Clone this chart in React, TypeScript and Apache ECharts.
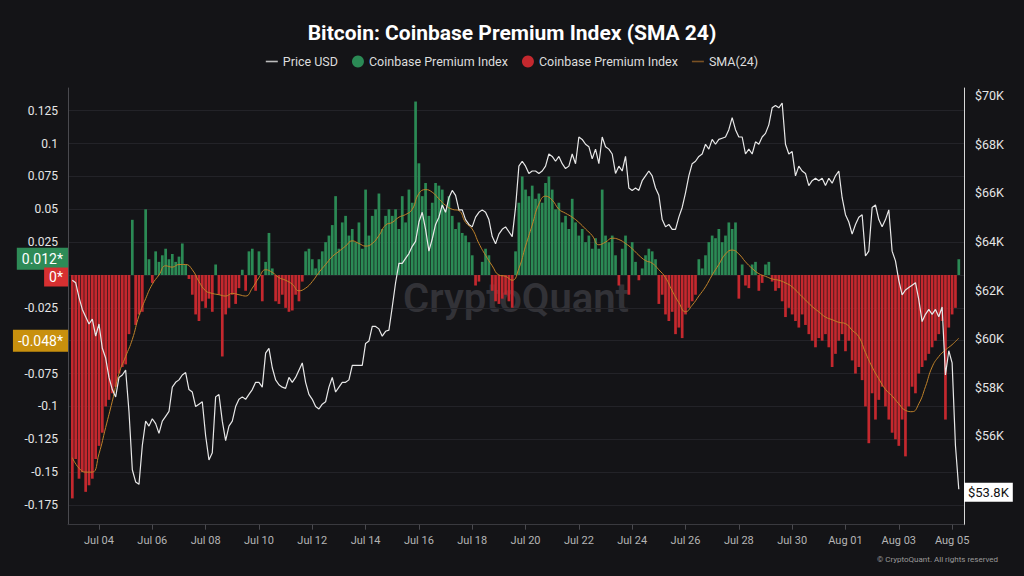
import React, { useEffect, useRef } from 'react';
import * as echarts from 'echarts';

// hours relative to Jul 04 00:00 UTC
const START_HOUR = -24;
const BAR_STEP_H = 3;
const SMA_STEP_H = 6;

const xTickHours = [0, 48, 96, 144, 192, 240, 288, 336, 384, 432, 480, 528, 576, 624, 672, 720, 768];
const xTickLabels = ['Jul 04', 'Jul 06', 'Jul 08', 'Jul 10', 'Jul 12', 'Jul 14', 'Jul 16', 'Jul 18', 'Jul 20', 'Jul 22', 'Jul 24', 'Jul 26', 'Jul 28', 'Jul 30', 'Aug 01', 'Aug 03', 'Aug 05'];
// grid lines on the left axis
const leftTicks = [-0.175, -0.15, -0.125, -0.1, -0.075, -0.05, -0.025, 0, 0.025, 0.05, 0.075, 0.1, 0.125];
// labels visible on the left axis (0 and -0.05 sit under the value tags)
const leftLabels = [-0.175, -0.15, -0.125, -0.1, -0.075, -0.025, 0.025, 0.05, 0.075, 0.1, 0.125];
// labels visible on the right axis ($54K sits under the price tag)
const rightTicks = [56, 58, 60, 62, 64, 66, 68, 70];

// BTC price in $K, every 3 hours from Jul 03 00:00
const priceUSD = [
  62.4, 62.3, 61.7, 61.2, 60.9, 60.6, 60.8, 60.1, 60.6, 59.6,
  59.2, 58.4, 57.9, 57.6, 58.4, 58.5, 58.7, 57.0, 54.6, 54.1,
  54.0, 55.6, 56.6, 56.4, 56.7, 56.5, 56.1, 56.6, 56.8, 57.0,
  58.0, 58.2, 58.3, 58.5, 58.6, 57.9, 57.8, 57.2, 57.3, 57.4,
  56.0, 55.0, 55.3, 57.6, 57.7, 56.6, 55.8, 56.4, 56.6, 57.2,
  57.5, 57.6, 57.5, 57.7, 57.9, 58.2, 58.2, 58.0, 59.4, 59.6,
  58.8, 58.3, 58.1, 58.0, 57.95, 58.4, 58.2, 58.4, 58.7, 59.0,
  58.2, 57.7, 57.5, 57.2, 57.1, 57.3, 57.4, 58.0, 58.4, 57.8,
  58.0, 58.2, 58.2, 58.3, 58.9, 58.9, 58.9, 58.9, 59.8, 59.9,
  60.5, 60.5, 60.4, 60.1, 60.3, 60.35,
  61.3, 62.3, 63.1, 63.1, 63.3, 63.5, 63.8, 64.0, 64.8, 65.2,
  64.5, 63.6, 64.1, 64.7, 65.0, 65.5, 65.2, 65.8, 66.1, 65.9,
  65.3, 65.3, 64.9, 64.7, 64.6, 65.0, 65.2, 65.3, 65.2, 64.9,
  64.2, 63.9, 64.3, 64.5, 64.6, 64.4, 64.2, 65.4, 67.1, 67.3,
  67.1, 66.8, 66.9, 66.9, 66.8, 66.9, 67.1, 67.6, 67.5, 67.3,
  67.5, 67.2, 67.0, 67.1, 67.6, 67.2, 68.3, 68.2, 68.0, 67.9,
  67.4, 67.8, 67.2, 68.3, 67.9, 67.8, 67.6, 66.8, 67.1, 66.9,
  67.5, 66.2, 66.1, 66.2, 66.1, 66.5, 66.7, 66.9, 66.7, 66.2,
  65.9, 64.9, 64.6, 64.7, 64.5, 64.5, 65.0, 65.4, 66.0, 66.7,
  67.2, 67.3, 67.5, 67.6, 68.0, 67.8, 68.2, 68.0, 68.2, 68.25,
  68.3, 68.6, 69.1, 68.6, 68.3, 68.3, 67.6, 67.8, 67.6, 68.1,
  68.0, 68.3, 68.45, 68.8, 69.5, 69.6, 69.5, 69.7, 68.0, 67.6,
  67.7, 66.7, 67.1, 66.9, 66.8, 66.3, 66.5, 66.6, 66.5, 66.6,
  66.3, 66.6, 66.4, 66.7, 66.9, 65.8, 65.1, 64.8, 64.3, 64.7,
  65.0, 65.1, 63.4, 63.6, 65.4, 65.5, 64.9, 64.6, 64.9, 65.3,
  63.6, 63.2, 62.4, 61.8, 62.0, 62.1, 62.2, 62.3, 61.6, 60.7,
  61.0, 61.2, 61.0, 61.2, 60.9, 61.3, 58.5, 59.5, 59.0, 55.6, 53.8,
];

// Coinbase Premium Index, every 3 hours from Jul 03 00:00
const premium = [
  -0.17, -0.14, -0.155, -0.15, -0.165, -0.16, -0.155, -0.14, -0.13, -0.12,
  -0.1, -0.095, -0.09, -0.085, -0.075, -0.07, -0.068, -0.045, 0.042, -0.038,
  -0.03, -0.028, 0.05, 0.012, -0.006, 0.018, 0.01, 0.015, 0.02, 0.012,
  0.016, 0.01, 0.014, 0.024, 0.008, -0.003, -0.015, -0.03, -0.035, -0.02,
  -0.025, -0.018, -0.028, 0.008, -0.015, -0.062, -0.03, -0.025, -0.015, -0.022,
  -0.01, 0.004, -0.012, 0.018, 0.02, -0.012, 0.018, -0.02, 0.01, 0.032,
  0.005, -0.02, -0.022, -0.015, -0.025, -0.028, -0.027, -0.015, -0.02, -0.005,
  0.018, 0.02, 0.012, 0.005, 0.012, 0.018, 0.025, 0.03, 0.038, 0.06,
  0.02, 0.04, 0.045, 0.03, 0.035, 0.025, 0.04, 0.02, 0.065, 0.03,
  0.045, 0.05, 0.062, 0.035, 0.045, 0.05,
  0.045, 0.05, 0.035, 0.06, 0.04, 0.065, 0.055, 0.132, 0.085, 0.06,
  0.07, 0.045, 0.055, 0.07, 0.068, 0.065, 0.05, 0.06, 0.045, 0.035,
  0.04, 0.032, 0.03, 0.025, 0.015, -0.008, -0.005, 0.01, 0.02, 0.015,
  -0.012, -0.02, -0.022, -0.018, -0.015, -0.02, -0.025, 0.018, 0.055, 0.075,
  0.065, 0.06, 0.068, 0.058, 0.062, 0.055, 0.07, 0.075, 0.065, 0.05,
  0.055, 0.04, 0.045, 0.035, 0.058, 0.04, 0.03, 0.035, 0.025, 0.03,
  0.02, 0.028, 0.02, 0.065, 0.03, 0.025, 0.03, 0.015, -0.008, 0.02,
  0.03, -0.015, 0.025, 0.01, -0.004, 0.005, 0.015, 0.02, 0.018, 0.012,
  -0.022, -0.015, -0.03, -0.035, -0.028, -0.045, -0.04, -0.048, -0.03, -0.025,
  -0.02, -0.015, 0.012, 0.005, 0.015, 0.025, 0.03, 0.028, 0.035, 0.025,
  0.03, 0.04, 0.035, 0.04, -0.018, 0.008, -0.008, -0.01, 0.008, 0.01,
  -0.012, -0.006, 0.008, 0.01, -0.005, -0.012, -0.01, -0.02, -0.032, -0.025,
  -0.03, -0.035, -0.04, -0.03, -0.038, -0.045, -0.05, -0.055, -0.048, -0.05,
  -0.045, -0.055, -0.07, -0.06, -0.05, -0.045, -0.058, -0.05, -0.065, -0.075,
  -0.07, -0.08, -0.1, -0.128, -0.09, -0.11, -0.095, -0.085, -0.1, -0.11,
  -0.12, -0.125, -0.13, -0.11, -0.138, -0.1, -0.085, -0.09, -0.075, -0.07,
  -0.065, -0.06, -0.055, -0.05, -0.045, -0.035, -0.11, -0.04, -0.03, -0.025, 0.012,
];

// SMA(24), every 6 hours from Jul 03 00:00
const sma24 = [
  -0.139, -0.147, -0.15, -0.15, -0.136, -0.116, -0.096, -0.075, -0.062, -0.049,
  -0.031, -0.018, -0.007, 0.0, 0.007, 0.006, 0.008, 0.008, 0.004, -0.005,
  -0.012, -0.014, -0.015, -0.016, -0.014, -0.015, -0.016, -0.01, -0.002, 0.004,
  0.002, -0.002, -0.004, -0.007, -0.012, -0.01, -0.005, 0.002, 0.008, 0.014,
  0.018, 0.022, 0.026, 0.024, 0.022, 0.024, 0.03, 0.038,
  0.04, 0.044, 0.046, 0.05, 0.062, 0.065, 0.063, 0.058, 0.053, 0.05,
  0.049, 0.04, 0.035, 0.024, 0.015, 0.007, 0.0, -0.001, -0.004, 0.005,
  0.022, 0.038, 0.054, 0.06, 0.057, 0.05, 0.047, 0.044, 0.04, 0.035,
  0.03, 0.023, 0.025, 0.028, 0.027, 0.024, 0.02, 0.015, 0.011, 0.009,
  0.004, -0.002, -0.012, -0.021, -0.028, -0.023, -0.016, -0.009, 0.0, 0.008,
  0.016, 0.019, 0.016, 0.01, 0.005, 0.001, -0.001, -0.003, -0.004, -0.006,
  -0.009, -0.014, -0.019, -0.024, -0.028, -0.032, -0.034, -0.036, -0.037, -0.042,
  -0.047, -0.059, -0.07, -0.079, -0.087, -0.092, -0.098, -0.103, -0.104, -0.098,
  -0.085, -0.07, -0.062, -0.057, -0.053, -0.048,
];

const FONT = 'Roboto, "Noto Sans", sans-serif';
const LINE_ICON = 'path://M0,0 L12,0 L12,1.6 L0,1.6 Z';

export default function App() {
  const ref = useRef<HTMLDivElement>(null);

  useEffect(() => {
    if (!ref.current) return;
    const chart = echarts.init(ref.current, null, { renderer: 'svg' });

    const barX = (i: number) => START_HOUR + i * BAR_STEP_H;
    const priceData = priceUSD.map((v, i) => [barX(i), v]);
    const posData = premium.map((v, i) => [barX(i), v > 0 ? v : '-']);
    const negData = premium.map((v, i) => [barX(i), v < 0 ? v : '-']);
    const smaData = sma24.map((v, i) => [START_HOUR + i * SMA_STEP_H, v]);

    const lastPremium = premium[premium.length - 1];
    const lastPos = lastPremium > 0 ? lastPremium : 0;
    const lastNeg = lastPremium < 0 ? lastPremium : 0;
    const lastSma = sma24[sma24.length - 1];
    const lastPrice = priceUSD[priceUSD.length - 1];

    const tagLabel = (text: string, bg: string, color: string, position: string, offsetY = 0) => ({
      show: true,
      position,
      distance: 0,
      offset: [0, offsetY],
      formatter: text,
      backgroundColor: bg,
      color,
      opacity: 1,
      fontFamily: FONT,
      fontSize: 14,
      padding: [4, 5, 4, 5],
    });

    const tagLine = (value: number, label: any) => ({
      silent: true,
      symbol: ['none', 'none'],
      lineStyle: { width: 0, color: 'rgba(0,0,0,0)', type: 'solid' },
      label,
      emphasis: { disabled: true },
      data: [{ yAxis: value }],
    });

    const option: any = {
      backgroundColor: '#141417',
      animation: false,
      textStyle: { fontFamily: FONT },
      title: {
        text: 'Bitcoin: Coinbase Premium Index (SMA 24)',
        left: 'center',
        top: 17,
        textStyle: { color: '#ffffff', fontSize: 21, fontWeight: 'bold', fontFamily: FONT },
      },
      legend: {
        top: 50,
        left: 'center',
        itemWidth: 12,
        itemHeight: 12,
        itemGap: 14,
        textStyle: { color: '#dddddd', fontSize: 12.5, fontFamily: FONT },
        data: [
          { name: 'Price USD', icon: LINE_ICON },
          { name: 'CPI+', icon: 'circle' },
          { name: 'CPI-', icon: 'circle' },
          { name: 'SMA(24)', icon: LINE_ICON },
        ],
        formatter: (name: string) =>
          name === 'CPI+' || name === 'CPI-' ? 'Coinbase Premium Index' : name,
      },
      grid: { left: 68, right: 60, top: 88, bottom: 51.3, containLabel: false },
      xAxis: {
        type: 'value',
        min: -27.9,
        max: 778.7,
        axisLine: { show: true, onZero: false, lineStyle: { color: '#3a3a3f' } },
        axisTick: { show: true, customValues: xTickHours, length: 5, lineStyle: { color: '#4a4a4f' } },
        axisLabel: {
          customValues: xTickHours,
          formatter: (v: number) => {
            const idx = xTickHours.indexOf(Math.round(v));
            return idx >= 0 ? xTickLabels[idx] : '';
          },
          color: '#b5b5b5',
          fontSize: 11,
          margin: 10,
          fontFamily: FONT,
        },
        splitLine: { show: false },
      },
      yAxis: [
        {
          type: 'value',
          position: 'left',
          min: -0.19,
          max: 0.1423,
          axisLine: { show: true, onZero: false, lineStyle: { color: '#4a4a4f' } },
          axisTick: { show: false, customValues: leftTicks },
          axisLabel: {
            customValues: leftLabels,
            formatter: (v: number) => String(v),
            color: '#e6e6e6',
            fontSize: 12,
            margin: 10,
            fontFamily: FONT,
          },
          splitLine: { show: true, lineStyle: { color: '#232328', width: 1 } },
        },
        {
          type: 'value',
          position: 'right',
          min: 52.338,
          max: 70.317,
          axisLine: { show: true, onZero: false, lineStyle: { color: '#d8d8d8' } },
          axisTick: { show: false, customValues: rightTicks },
          axisLabel: {
            customValues: rightTicks,
            formatter: (v: number) => `$${v}K`,
            color: '#e6e6e6',
            fontSize: 12.5,
            margin: 11,
            fontFamily: FONT,
          },
          splitLine: { show: false },
        },
      ],
      graphic: [
        {
          type: 'text',
          x: 516,
          y: 298,
          z: 0,
          silent: true,
          style: {
            text: 'CryptoQuant',
            fill: '#323237',
            font: `600 40px ${FONT}`,
            align: 'center',
            verticalAlign: 'middle',
          },
        },
        {
          type: 'text',
          x: 998,
          y: 559,
          silent: true,
          style: {
            text: '© CryptoQuant. All rights reserved',
            fill: '#9a9a9a',
            font: `8px ${FONT}`,
            align: 'right',
            verticalAlign: 'middle',
          },
        },
      ],
      series: [
        {
          name: 'CPI+',
          type: 'bar',
          yAxisIndex: 0,
          data: posData,
          barWidth: 2.7,
          barGap: '-100%',
          itemStyle: { color: '#2b8a55' },
          silent: true,
          markLine: tagLine(lastPos, tagLabel(`${lastPos}*`, '#2e8b57', '#ffffff', 'start', -3)),
        },
        {
          name: 'CPI-',
          type: 'bar',
          yAxisIndex: 0,
          data: negData,
          barWidth: 2.7,
          barGap: '-100%',
          itemStyle: { color: '#c4282e' },
          silent: true,
          markLine: tagLine(lastNeg, {
            ...tagLabel(`${lastNeg}*`, '#d63031', '#ffffff', 'start', 2),
            padding: [3, 5, 2, 5],
          }),
        },
        {
          name: 'SMA(24)',
          type: 'line',
          yAxisIndex: 0,
          data: smaData,
          symbol: 'none',
          smooth: true,
          lineStyle: { color: '#c0822a', width: 1 },
          itemStyle: { color: '#7a5124' },
          silent: true,
          markLine: tagLine(lastSma, tagLabel(`${lastSma}*`, '#c8900e', '#ffffff', 'start')),
        },
        {
          name: 'Price USD',
          type: 'line',
          yAxisIndex: 1,
          data: priceData,
          symbol: 'none',
          lineStyle: { color: '#e8e8e8', width: 1.2 },
          itemStyle: { color: '#bdbdbd' },
          silent: true,
          markLine: tagLine(lastPrice, {
            ...tagLabel(`$${lastPrice}K`, '#ffffff', '#111111', 'end', 3),
            fontSize: 13,
            padding: [3, 4, 3, 4],
          }),
        },
      ],
    };

    chart.setOption(option);
    return () => chart.dispose();
  }, []);

  return (
    <div
      ref={ref}
      style={{ position: 'absolute', left: 0, top: 0, width: 1024, height: 576 }}
    />
  );
}
